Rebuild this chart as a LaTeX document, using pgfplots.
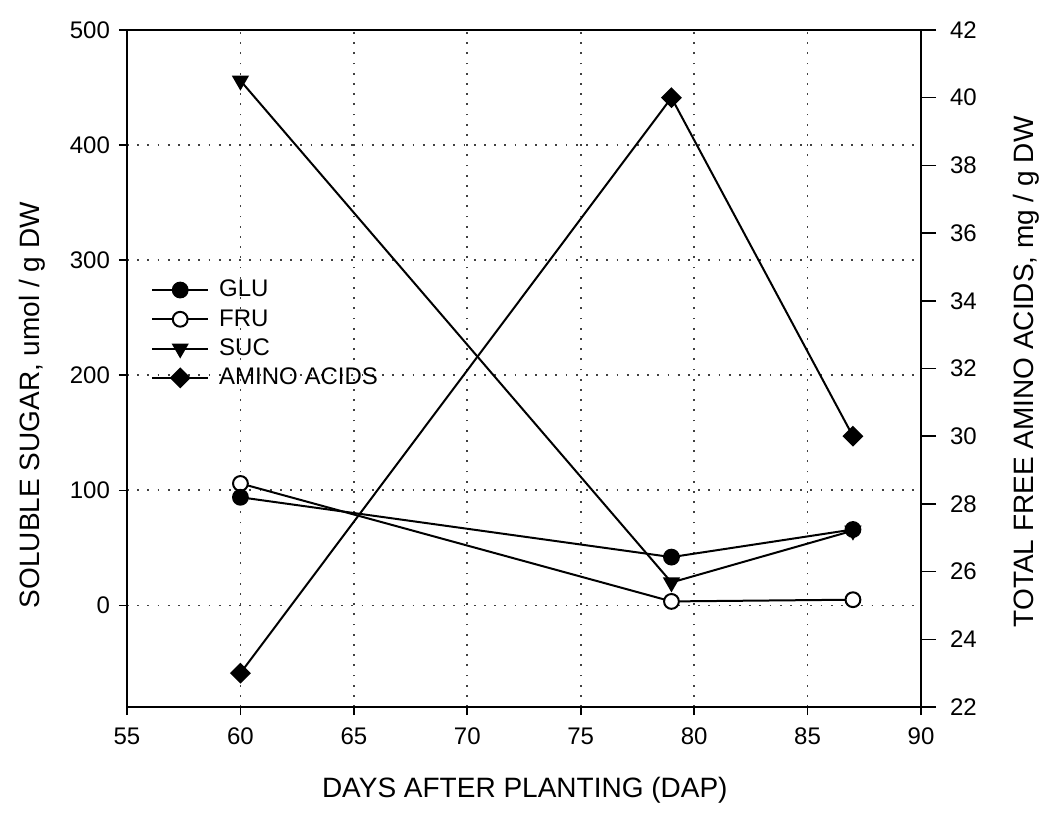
\documentclass[border=0pt]{standalone}
\usepackage{fontspec}
\setmainfont{Liberation Sans}
\usepackage{pgfplots}
\pgfplotsset{compat=1.18}
\begin{document}
\begin{tikzpicture}
\pgfplotsset{
  every axis/.append style={
    scale only axis, width=397pt, height=338.5pt,
    at={(0,0)}, anchor=south west,
    font=\fontsize{12}{14}\selectfont,
    /pgf/number format/assume math mode=true,
    tick style={black, line width=0.8pt},
    axis line style={line width=0.9pt},
    tick align=outside,
    label style={font=\fontsize{14}{16}\selectfont},
  },
  glustyle/.style={black, line width=1pt, mark=*, mark size=3.7pt, mark options={fill=black}},
  frustyle/.style={black, line width=1pt, mark=*, mark size=3.7pt, mark options={fill=white}},
  sucstyle/.style={black, line width=1pt, mark=triangle*, mark size=4pt, mark options={fill=black, rotate=180}},
  aastyle/.style={black, line width=1pt, mark=square*, mark size=3.2pt, mark options={fill=black, rotate=45}},
}
\begin{axis}[
  xmin=55, xmax=90, ymin=-88.235, ymax=500,
  xtick={55,60,...,90}, ytick={0,100,...,500},
  xtick pos=bottom, ytick pos=left,
  major tick length=4pt,
  xticklabel style={yshift=-3pt},
  yticklabel style={xshift=-1pt},
  grid=major,
  major grid style={black!75, line width=0.9pt, dash pattern=on 0.9pt off 4.2pt},
  xlabel={DAYS AFTER PLANTING (DAP)},
  ylabel={SOLUBLE SUGAR, umol / g DW},
  xlabel style={at={(axis description cs:0.501,-0.123)}, anchor=center},
  ylabel style={at={(axis description cs:-0.119,0.446)}, anchor=center},
  legend style={at={(axis description cs:0.03,0.637)}, anchor=north west,
    draw=none, fill=none, font=\fontsize{12}{14}\selectfont,
    row sep=0.8pt, column sep=3pt, inner sep=0pt},
  legend cell align=left,
  legend image code/.code={\draw[mark repeat=2,mark phase=2] plot coordinates {(0pt,0pt)(14pt,0pt)(28pt,0pt)};},
]
\addlegendimage{glustyle}
\addlegendentry{GLU}
\addlegendimage{frustyle}
\addlegendentry{FRU}
\addlegendimage{sucstyle}
\addlegendentry{SUC}
\addlegendimage{aastyle}
\addlegendentry{AMINO ACIDS}
\addplot[sucstyle, forget plot] coordinates {(60,456) (79,20) (87,65)};
\addplot[frustyle, forget plot] coordinates {(60,106) (79,3.5) (87,5)};
\addplot[glustyle, forget plot] coordinates {(60,94) (79,42) (87,66)};
\end{axis}
\begin{axis}[
  xmin=55, xmax=90, ymin=22, ymax=42,
  ytick={22,24,...,42},
  hide x axis,
  axis y line*=right,
  major tick length=7.5pt,
  yticklabel shift=3.5pt,
  ylabel={TOTAL FREE AMINO ACIDS, mg / g DW},
  ylabel style={at={(axis description cs:1.133,0.495)}, anchor=center, rotate=0},
]
\addplot[aastyle] coordinates {(60,23) (79,40) (87,30)};
\end{axis}
\pgfresetboundingbox
\path[use as bounding box] (-63.5pt,-56.5pt) rectangle (457.5pt,353.5pt);
\end{tikzpicture}
\end{document}
